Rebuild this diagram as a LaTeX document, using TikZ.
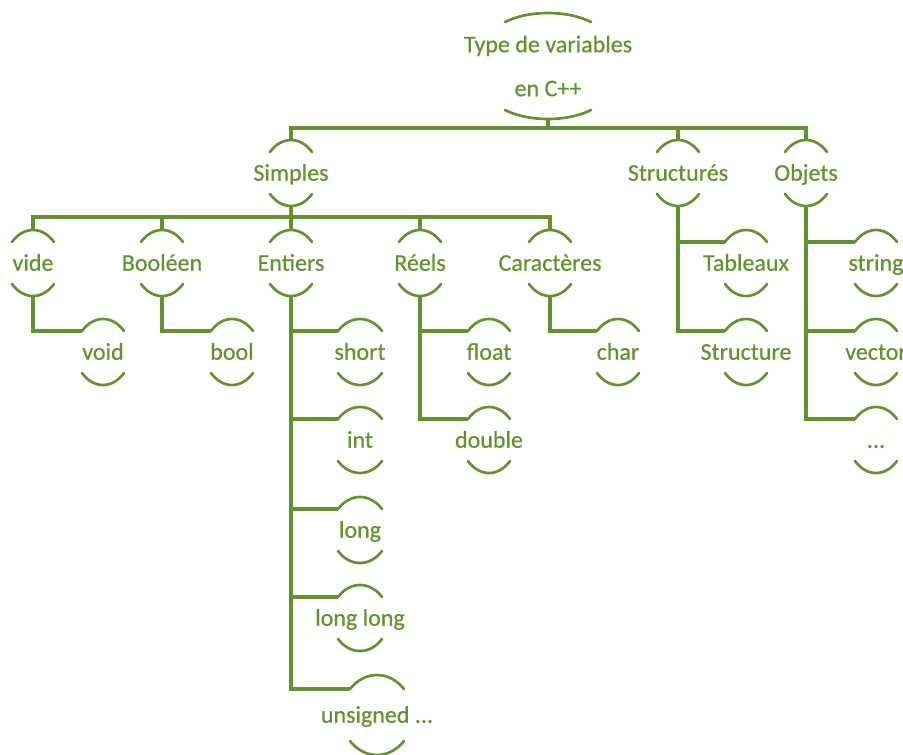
\documentclass[tikz,border=0pt]{standalone}
\usepackage{fontspec}
\setmainfont{Carlito}[FakeBold=0.6]
\definecolor{leaf}{RGB}{98,148,46}

% #1 name, #2 x, #3 y, #4 half width, #5 offset of arc ends, #6 offset of arc apex
\newcommand{\bracepair}[6]{%
  \coordinate (#1-top) at ({#2},{#3-#6});
  \coordinate (#1-bot) at ({#2},{#3+#6});
  \coordinate (#1-in)  at ({#2-#4},{#3-#5});
  \draw[brace] ({#2-#4},{#3-#5})
    .. controls ({#2-0.45*#4},{#3-(8*#6-2*#5)/6}) and ({#2+0.45*#4},{#3-(8*#6-2*#5)/6})
    .. ({#2+#4},{#3-#5});
  \draw[brace] ({#2-#4},{#3+#5})
    .. controls ({#2-0.45*#4},{#3+(8*#6-2*#5)/6}) and ({#2+0.45*#4},{#3+(8*#6-2*#5)/6})
    .. ({#2+#4},{#3+#5});
}
% #1 name, #2 x, #3 y, #4 half width, #5 label
\newcommand{\typenode}[5]{%
  \node[lbl] (#1) at ({#2},{#3}) {#5};
  \bracepair{#1}{#2}{#3}{#4}{21}{33}%
}

\begin{document}
\begin{tikzpicture}[x=0.75pt,y=-0.75pt,
  lbl/.style={inner sep=0pt, text=leaf, font=\fontsize{18}{22}\selectfont,
              text height=12pt, text depth=0.4pt},
  rootlbl/.style={inner sep=0pt, text=leaf, font=\fontsize{18}{33}\selectfont, align=center},
  link/.style={draw=leaf, line width=2.5pt},
  brace/.style={draw=leaf, line width=2pt, line cap=round}]
\useasboundingbox (0,0) rectangle (903,754);
\clip (0,0) rectangle (903,754);

% root
\node[rootlbl] (root) at (548,66) {Type de variables\\en C++};
\bracepair{root}{548}{66}{43}{44}{53}

% first level
\typenode{simples}{291}{173}{21}{Simples}
\typenode{structures}{678}{173}{21}{Structurés}
\typenode{objets}{806}{173}{21}{Objets}

% simple types
\typenode{vide}{33}{263}{21}{vide}
\typenode{booleen}{162}{263}{21}{Booléen}
\typenode{entiers}{291}{263}{21}{Entiers}
\typenode{reels}{420}{263}{21}{Réels}
\typenode{caracteres}{550}{263}{21}{Caractères}

% keywords
\typenode{void}{103}{352}{21}{void}
\typenode{bool}{232}{352}{21}{bool}
\typenode{short}{360}{352}{22}{short}
\typenode{int}{360}{440}{22}{int}
\typenode{long}{360}{530}{22}{long}
\typenode{longlong}{360}{618}{22}{long long}
\node[lbl] (unsigned) at (377,715) {unsigned ...};
\bracepair{unsigned}{377}{715}{27}{26}{40}
\typenode{float}{489}{352}{21}{float}
\typenode{double}{489}{440}{21}{double}
\typenode{char}{618}{352}{21}{char}
\typenode{tableaux}{746}{263}{21}{Tableaux}
\typenode{structure}{746}{352}{21}{Structure}
\typenode{string}{876}{263}{21}{string}
\typenode{vector}{876}{352}{21}{vector}
\typenode{more}{876}{440}{21}{...}

% root to first level
\coordinate (bus0) at (548,128);
\draw[link] (root-bot) -- (bus0);
\draw[link] (simples-top) |- (bus0) -| (objets-top);
\draw[link] (structures-top) -- (structures-top |- bus0);

% simples to its kinds
\coordinate (bus1) at (291,217);
\draw[link] (simples-bot) -- (bus1);
\draw[link] (vide-top) |- (bus1) -| (caracteres-top);
\draw[link] (booleen-top) -- (booleen-top |- bus1);
\draw[link] (entiers-top) -- (bus1);
\draw[link] (reels-top) -- (reels-top |- bus1);

% kinds to keywords
\draw[link] (vide-bot) |- (void-in);
\draw[link] (booleen-bot) |- (bool-in);
\draw[link] (entiers-bot) |- (unsigned-in);
\draw[link] (entiers-bot |- short-in) -- (short-in);
\draw[link] (entiers-bot |- int-in) -- (int-in);
\draw[link] (entiers-bot |- long-in) -- (long-in);
\draw[link] (entiers-bot |- longlong-in) -- (longlong-in);
\draw[link] (reels-bot) |- (double-in);
\draw[link] (reels-bot |- float-in) -- (float-in);
\draw[link] (caracteres-bot) |- (char-in);

% structured and object types
\draw[link] (structures-bot) |- (structure-in);
\draw[link] (structures-bot |- tableaux-in) -- (tableaux-in);
\draw[link] (objets-bot) |- (more-in);
\draw[link] (objets-bot |- string-in) -- (string-in);
\draw[link] (objets-bot |- vector-in) -- (vector-in);
\end{tikzpicture}
\end{document}
